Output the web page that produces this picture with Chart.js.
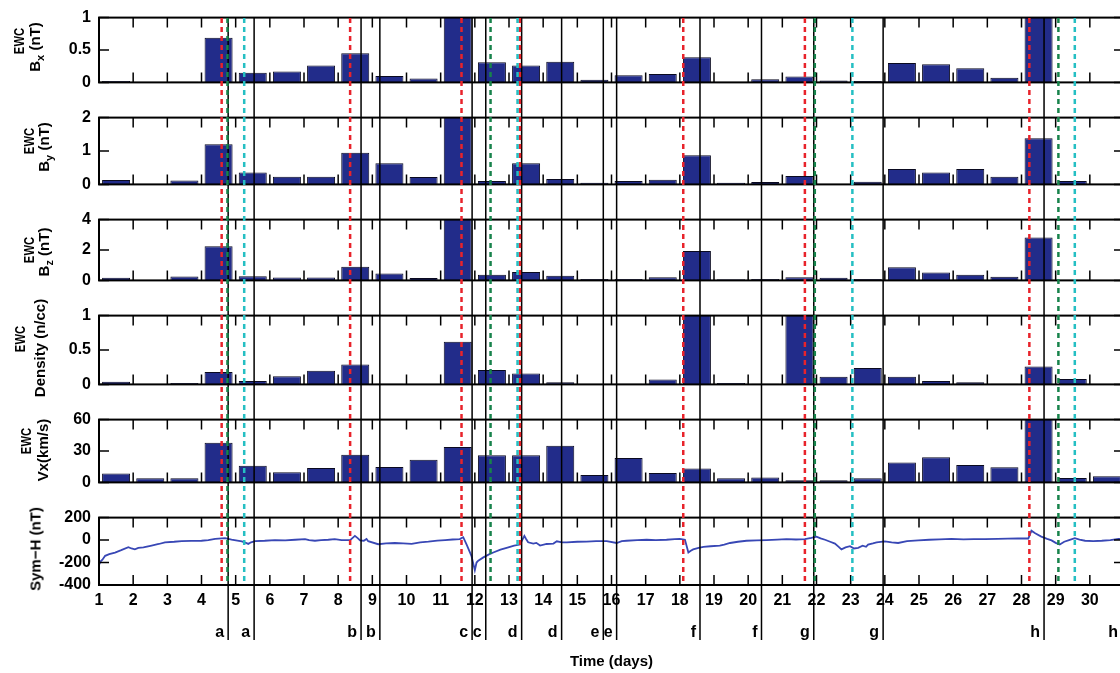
<!DOCTYPE html>
<html>
<head>
<meta charset="utf-8">
<title>EWC panels and Sym-H</title>
<script src="https://cdn.jsdelivr.net/npm/chart.js@4.4.1/dist/chart.umd.min.js"></script>
<style>
  html, body { margin: 0; padding: 0; background: #fff; overflow: hidden; }
  #wrap { position: relative; width: 1120px; height: 673px; overflow: hidden; }
  #wrap canvas { position: absolute; left: 0; }
  .ylab { position: absolute; font: bold 15px 'Liberation Sans', Arial, sans-serif; color: #000; white-space: nowrap; line-height: 1; }
  .ylab sub { font-size: 11px; vertical-align: -4px; }
</style>
</head>
<body>
<div id="wrap"></div>
<script>
// integer day ticks on the time axis
const dayTicks = [1, 2, 3, 4, 5, 6, 7, 8, 9, 10, 11, 12, 13, 14, 15, 16, 17, 18, 19, 20, 21, 22, 23, 24, 25, 26, 27, 28, 29, 30];

// one bar per day, centred on the middle of the day
const barDays = [1.5, 2.5, 3.5, 4.5, 5.5, 6.5, 7.5, 8.5, 9.5, 10.5, 11.5, 12.5, 13.5, 14.5, 15.5,
                 16.5, 17.5, 18.5, 19.5, 20.5, 21.5, 22.5, 23.5, 24.5, 25.5, 26.5, 27.5, 28.5, 29.5, 30.5];

// EWC values per day (bars above the axis max are clipped in the original)
const ewcBx = [0.02, 0, 0.01, 0.69, 0.15, 0.17, 0.26, 0.45, 0.10, 0.06, 1.3, 0.31, 0.26, 0.32, 0.04,
               0.11, 0.13, 0.39, 0, 0.05, 0.09, 0.03, 0.02, 0.30, 0.28, 0.22, 0.07, 1.3, 0, 0];
const ewcBy = [0.13, 0, 0.12, 1.2, 0.36, 0.23, 0.23, 0.95, 0.63, 0.22, 2.5, 0.10, 0.63, 0.16, 0.05,
               0.10, 0.14, 0.87, 0.05, 0.07, 0.25, 0, 0.08, 0.46, 0.36, 0.46, 0.23, 1.38, 0.10, 0];
const ewcBz = [0.18, 0, 0.26, 2.25, 0.28, 0.19, 0.19, 0.9, 0.45, 0.15, 4.5, 0.37, 0.56, 0.3, 0.1,
               0.1, 0.2, 1.93, 0.08, 0.1, 0.2, 0.17, 0.1, 0.86, 0.52, 0.37, 0.24, 2.83, 0.05, 0];
const ewcDensity = [0.04, 0, 0.02, 0.18, 0.05, 0.12, 0.2, 0.29, 0.01, 0, 0.62, 0.21, 0.16, 0.03, 0,
                    0.01, 0.07, 1.3, 0.02, 0.01, 1.3, 0.11, 0.24, 0.11, 0.05, 0.03, 0.01, 0.26, 0.08, 0];
const ewcVx = [8.5, 4, 4, 38, 16, 9.6, 13.7, 26.5, 14.7, 21.7, 33.8, 25.9, 25.9, 35, 7,
               23.2, 9, 13.2, 4, 4.8, 2, 2, 4, 19, 24, 16.6, 14.4, 65, 4.3, 5.9];

// y tick values of each panel
const bxTicks = [0, 0.5, 1];
const byTicks = [0, 1, 2];
const bzTicks = [0, 2, 4];
const densityTicks = [0, 0.5, 1];
const vxTicks = [0, 30, 60];
const symHTicks = [-400, -200, 0, 200];

// Sym-H index (nT)
const symHDays = [1.00, 1.05, 1.10, 1.18, 1.30, 1.47, 1.65, 1.86, 1.95, 2.05, 2.15, 2.30, 2.54, 2.75, 2.93,
  3.20, 3.42, 3.70, 4.00, 4.20, 4.40, 4.69, 4.88, 5.05, 5.18, 5.30, 5.37, 5.45, 5.57, 5.85,
  6.15, 6.45, 6.74, 7.03, 7.15, 7.32, 7.50, 7.71, 7.90, 8.10, 8.35, 8.49, 8.58, 8.64, 8.75,
  8.83, 8.88, 9.17, 9.40, 9.66, 9.90, 10.15, 10.40, 10.64, 10.90, 11.13, 11.35, 11.56, 11.66, 11.76,
  11.90, 12.00, 12.05, 12.10, 12.25, 12.40, 12.54, 12.75, 12.93, 13.15, 13.32, 13.45, 13.50, 13.56, 13.71,
  13.80, 13.91, 14.10, 14.30, 14.40, 14.55, 14.69, 15.00, 15.27, 15.55, 15.86, 16.15, 16.30, 16.44, 16.75,
  17.03, 17.30, 17.61, 17.85, 18.00, 18.15, 18.25, 18.32, 18.39, 18.55, 18.69, 18.90, 19.17, 19.30, 19.47,
  19.70, 19.95, 20.25, 20.54, 20.85, 21.12, 21.40, 21.66, 21.85, 22.00, 22.12, 22.25, 22.40, 22.54, 22.65,
  22.73, 22.85, 22.98, 23.10, 23.22, 23.35, 23.45, 23.51, 23.65, 23.76, 24.00, 24.20, 24.39, 24.65, 24.98,
  25.30, 25.60, 25.95, 26.30, 26.60, 26.93, 27.30, 27.60, 27.90, 28.20, 28.29, 28.40, 28.58, 28.75, 28.88,
  29.00, 29.12, 29.25, 29.37, 29.56, 29.70, 29.86, 30.10, 30.35, 30.60, 30.84, 31.00];
const symHValues = [-220, -190, -175, -140, -125, -111, -90, -63, -75, -83, -70, -66, -49, -35, -20,
  -15, -9, -8, -6, 0, 11, 17, 3, -5, -11, -25, -34, -20, -9, -6,
  0, -3, 3, 9, 0, -6, 0, 3, 8, 0, 0, 37, 15, -3, -6,
  10, -10, -37, -30, -26, -30, -34, -20, -14, -5, 0, 5, 9, 26, -40,
  -140, -269, -200, -183, -154, -130, -111, -85, -69, -50, -40, 37, 10, -20, -31,
  -25, -49, -35, -31, -11, -20, -20, -15, -14, -10, -9, -26, -10, -6, 0,
  3, 0, 3, 8, 11, 3, -111, -95, -83, -70, -60, -55, -49, -40, -26,
  -15, -6, -3, 0, 4, 9, 5, 9, 20, 31, 15, 3, -15, -31, -60,
  -83, -65, -54, -75, -69, -50, -60, -40, -30, -20, -11, -20, -26, -10, -3,
  3, 6, 11, 6, 8, 9, 10, 12, 14, 14, 83, 60, 31, 10, -3,
  -25, -40, -15, -3, 17, 5, -6, -10, -6, 0, 11, 8];

// solid event markers and their letters
const eventDays = [4.78, 5.54, 8.67, 9.22, 11.92, 12.32, 13.37, 14.54, 15.76, 16.15, 18.59, 20.39, 21.92, 23.95, 28.66, 30.94];
const eventLetters = ['a', 'a', 'b', 'b', 'c', 'c', 'd', 'd', 'e', 'e', 'f', 'f', 'g', 'g', 'h', 'h'];

// dashed markers
const redDays = [4.59, 8.35, 11.61, 13.32, 18.10, 21.66, 28.23];
const greenDays = [4.76, 12.46, 21.95, 29.08];
const cyanDays = [5.25, 13.25, 23.05, 29.56];

const FONT = "'Liberation Sans', Arial, sans-serif";
const barFill = '#222c8a';

// panel layout: canvas top/height and chart area padding
const panels = [
  { values: ewcBx, ticks: bxTicks, min: 0, max: 1, top: 0, height: 100, padTop: 14, padBottom: 15,
    labels: [{ html: 'EWC', x: 18, y: 41, sx: 0.75 }, { html: 'B<sub>x</sub> (nT)', x: 36, y: 47 }] },
  { values: ewcBy, ticks: byTicks, min: 0, max: 2, top: 100, height: 102, padTop: 16, padBottom: 15,
    labels: [{ html: 'EWC', x: 28, y: 141, sx: 0.75 }, { html: 'B<sub>y</sub> (nT)', x: 45, y: 147 }] },
  { values: ewcBz, ticks: bzTicks, min: 0, max: 4, top: 202, height: 96, padTop: 16, padBottom: 9,
    labels: [{ html: 'EWC', x: 28, y: 250, sx: 0.75 }, { html: 'B<sub>z</sub> (nT)', x: 45, y: 252 }] },
  { values: ewcDensity, ticks: densityTicks, min: 0, max: 1, top: 298, height: 104, padTop: 9, padBottom: 13,
    labels: [{ html: 'EWC', x: 19, y: 339, sx: 0.75 }, { html: 'Density (n/cc)', x: 39, y: 348 }] },
  { values: ewcVx, ticks: vxTicks, min: 0, max: 60, top: 402, height: 98, padTop: 13, padBottom: 14,
    labels: [{ html: 'EWC', x: 25, y: 441, sx: 0.75 }, { html: 'Vx(km/s)', x: 42, y: 450 }] },
  { line: true, ticks: symHTicks, min: -400, max: 200, top: 500, height: 173, padTop: 16, padBottom: 0,
    labels: [{ html: 'Sym\u2212H (nT)', x: 35, y: 549 }] }
];

// box round each panel with inward ticks
const framePlugin = {
  id: 'frame',
  afterDatasetsDraw(chart) {
    const { ctx, chartArea: a, scales: { x, y } } = chart;
    ctx.save();
    ctx.strokeStyle = '#000';
    ctx.lineWidth = 1.5;
    ctx.beginPath();
    dayTicks.forEach(d => {
      const px = x.getPixelForValue(d);
      ctx.moveTo(px, a.top); ctx.lineTo(px, a.top + 10);
      ctx.moveTo(px, a.bottom); ctx.lineTo(px, a.bottom - 10);
    });
    y.ticks.forEach(t => {
      const py = y.getPixelForValue(t.value);
      ctx.moveTo(a.left, py); ctx.lineTo(a.left + 10, py);
      ctx.moveTo(a.right, py); ctx.lineTo(a.right - 10, py);
    });
    ctx.stroke();
    ctx.lineWidth = 2;
    ctx.strokeRect(a.left, a.top, a.right - a.left, a.bottom - a.top);
    ctx.restore();
  }
};

// vertical event lines running through all the panels
const markerPlugin = {
  id: 'markers',
  afterDatasetsDraw(chart, args, opts) {
    const { ctx, chartArea: a, scales: { x } } = chart;
    const h = chart.height;
    const top = opts.first ? a.top : 0;
    const solidBottom = opts.last ? 140 : h;
    const dashBottom = opts.last ? a.bottom : h;
    ctx.save();
    ctx.strokeStyle = '#000';
    ctx.lineWidth = 1.5;
    ctx.beginPath();
    eventDays.forEach(d => {
      const px = x.getPixelForValue(d);
      ctx.moveTo(px, top); ctx.lineTo(px, solidBottom);
    });
    ctx.stroke();

    ctx.lineWidth = 2.5;
    ctx.setLineDash([5, 4]);
    ctx.lineDashOffset = opts.offset + top;
    [[redDays, '#e8232b'], [greenDays, '#17834b'], [cyanDays, '#25bfc3']].forEach(([days, color]) => {
      ctx.strokeStyle = color;
      ctx.beginPath();
      days.forEach(d => {
        const px = x.getPixelForValue(d);
        ctx.moveTo(px, top); ctx.lineTo(px, dashBottom);
      });
      ctx.stroke();
    });
    ctx.setLineDash([]);

    if (opts.last) {
      ctx.fillStyle = '#000';
      ctx.font = 'bold 16px ' + FONT;
      ctx.textAlign = 'right';
      ctx.textBaseline = 'middle';
      eventDays.forEach((d, i) => {
        ctx.fillText(eventLetters[i], x.getPixelForValue(d) - 4, 133);
      });
    }
    ctx.restore();
  }
};

const wrap = document.getElementById('wrap');

panels.forEach((p, idx) => {
  const canvas = document.createElement('canvas');
  canvas.width = 1140;
  canvas.height = p.height;
  canvas.style.top = p.top + 'px';
  wrap.appendChild(canvas);

  p.labels.forEach(l => {
    const div = document.createElement('div');
    div.className = 'ylab';
    div.innerHTML = l.html;
    div.style.left = l.x + 'px';
    div.style.top = l.y + 'px';
    div.style.transform = 'translate(-50%, -50%) rotate(-90deg)' + (l.sx ? ' scaleX(' + l.sx + ')' : '');
    wrap.appendChild(div);
  });

  const last = idx === panels.length - 1;
  const tickFont = { family: FONT, size: 16, weight: 'bold' };

  const xScale = {
    type: 'linear',
    min: 1,
    max: 31,
    offset: false,
    display: last,
    grid: { display: false, drawTicks: false, offset: false },
    border: { display: false }
  };
  if (last) {
    xScale.afterBuildTicks = s => { s.ticks = dayTicks.map(v => ({ value: v })); };
    xScale.afterFit = s => { s.height = 88; };
    xScale.ticks = { padding: 6, color: '#000', font: tickFont, autoSkip: false, maxRotation: 0,
                     callback: v => String(v) };
    xScale.title = { display: true, text: 'Time (days)', color: '#000', padding: { top: 0, bottom: 2 },
                     font: { family: FONT, size: 15, weight: 'bold' } };
  }

  const dataset = p.line
    ? { data: symHDays.map((d, i) => ({ x: d, y: symHValues[i] })), borderColor: '#3847b5',
        borderWidth: 1.8, pointRadius: 0, tension: 0, fill: false }
    : { data: barDays.map((d, i) => ({ x: d, y: p.values[i] })), backgroundColor: barFill,
        borderColor: '#0a0a20', borderWidth: 1, barPercentage: 0.82, categoryPercentage: 1 };

  new Chart(canvas, {
    type: p.line ? 'line' : 'bar',
    data: { datasets: [dataset] },
    options: {
      responsive: false,
      animation: false,
      events: [],
      layout: { padding: { top: p.padTop, bottom: p.padBottom, left: 0, right: 16 } },
      plugins: {
        legend: { display: false },
        tooltip: { enabled: false },
        markers: { first: idx === 0, last: last, offset: p.top }
      },
      scales: {
        x: xScale,
        y: {
          min: p.min,
          max: p.max,
          afterFit: s => { s.width = 99; },
          afterBuildTicks: s => { s.ticks = p.ticks.map(v => ({ value: v })); },
          grid: { display: false, drawTicks: false },
          border: { display: false },
          ticks: { padding: 8, color: '#000', font: tickFont, callback: v => String(v) }
        }
      }
    },
    plugins: [framePlugin, markerPlugin]
  });
});
</script>
</body>
</html>
